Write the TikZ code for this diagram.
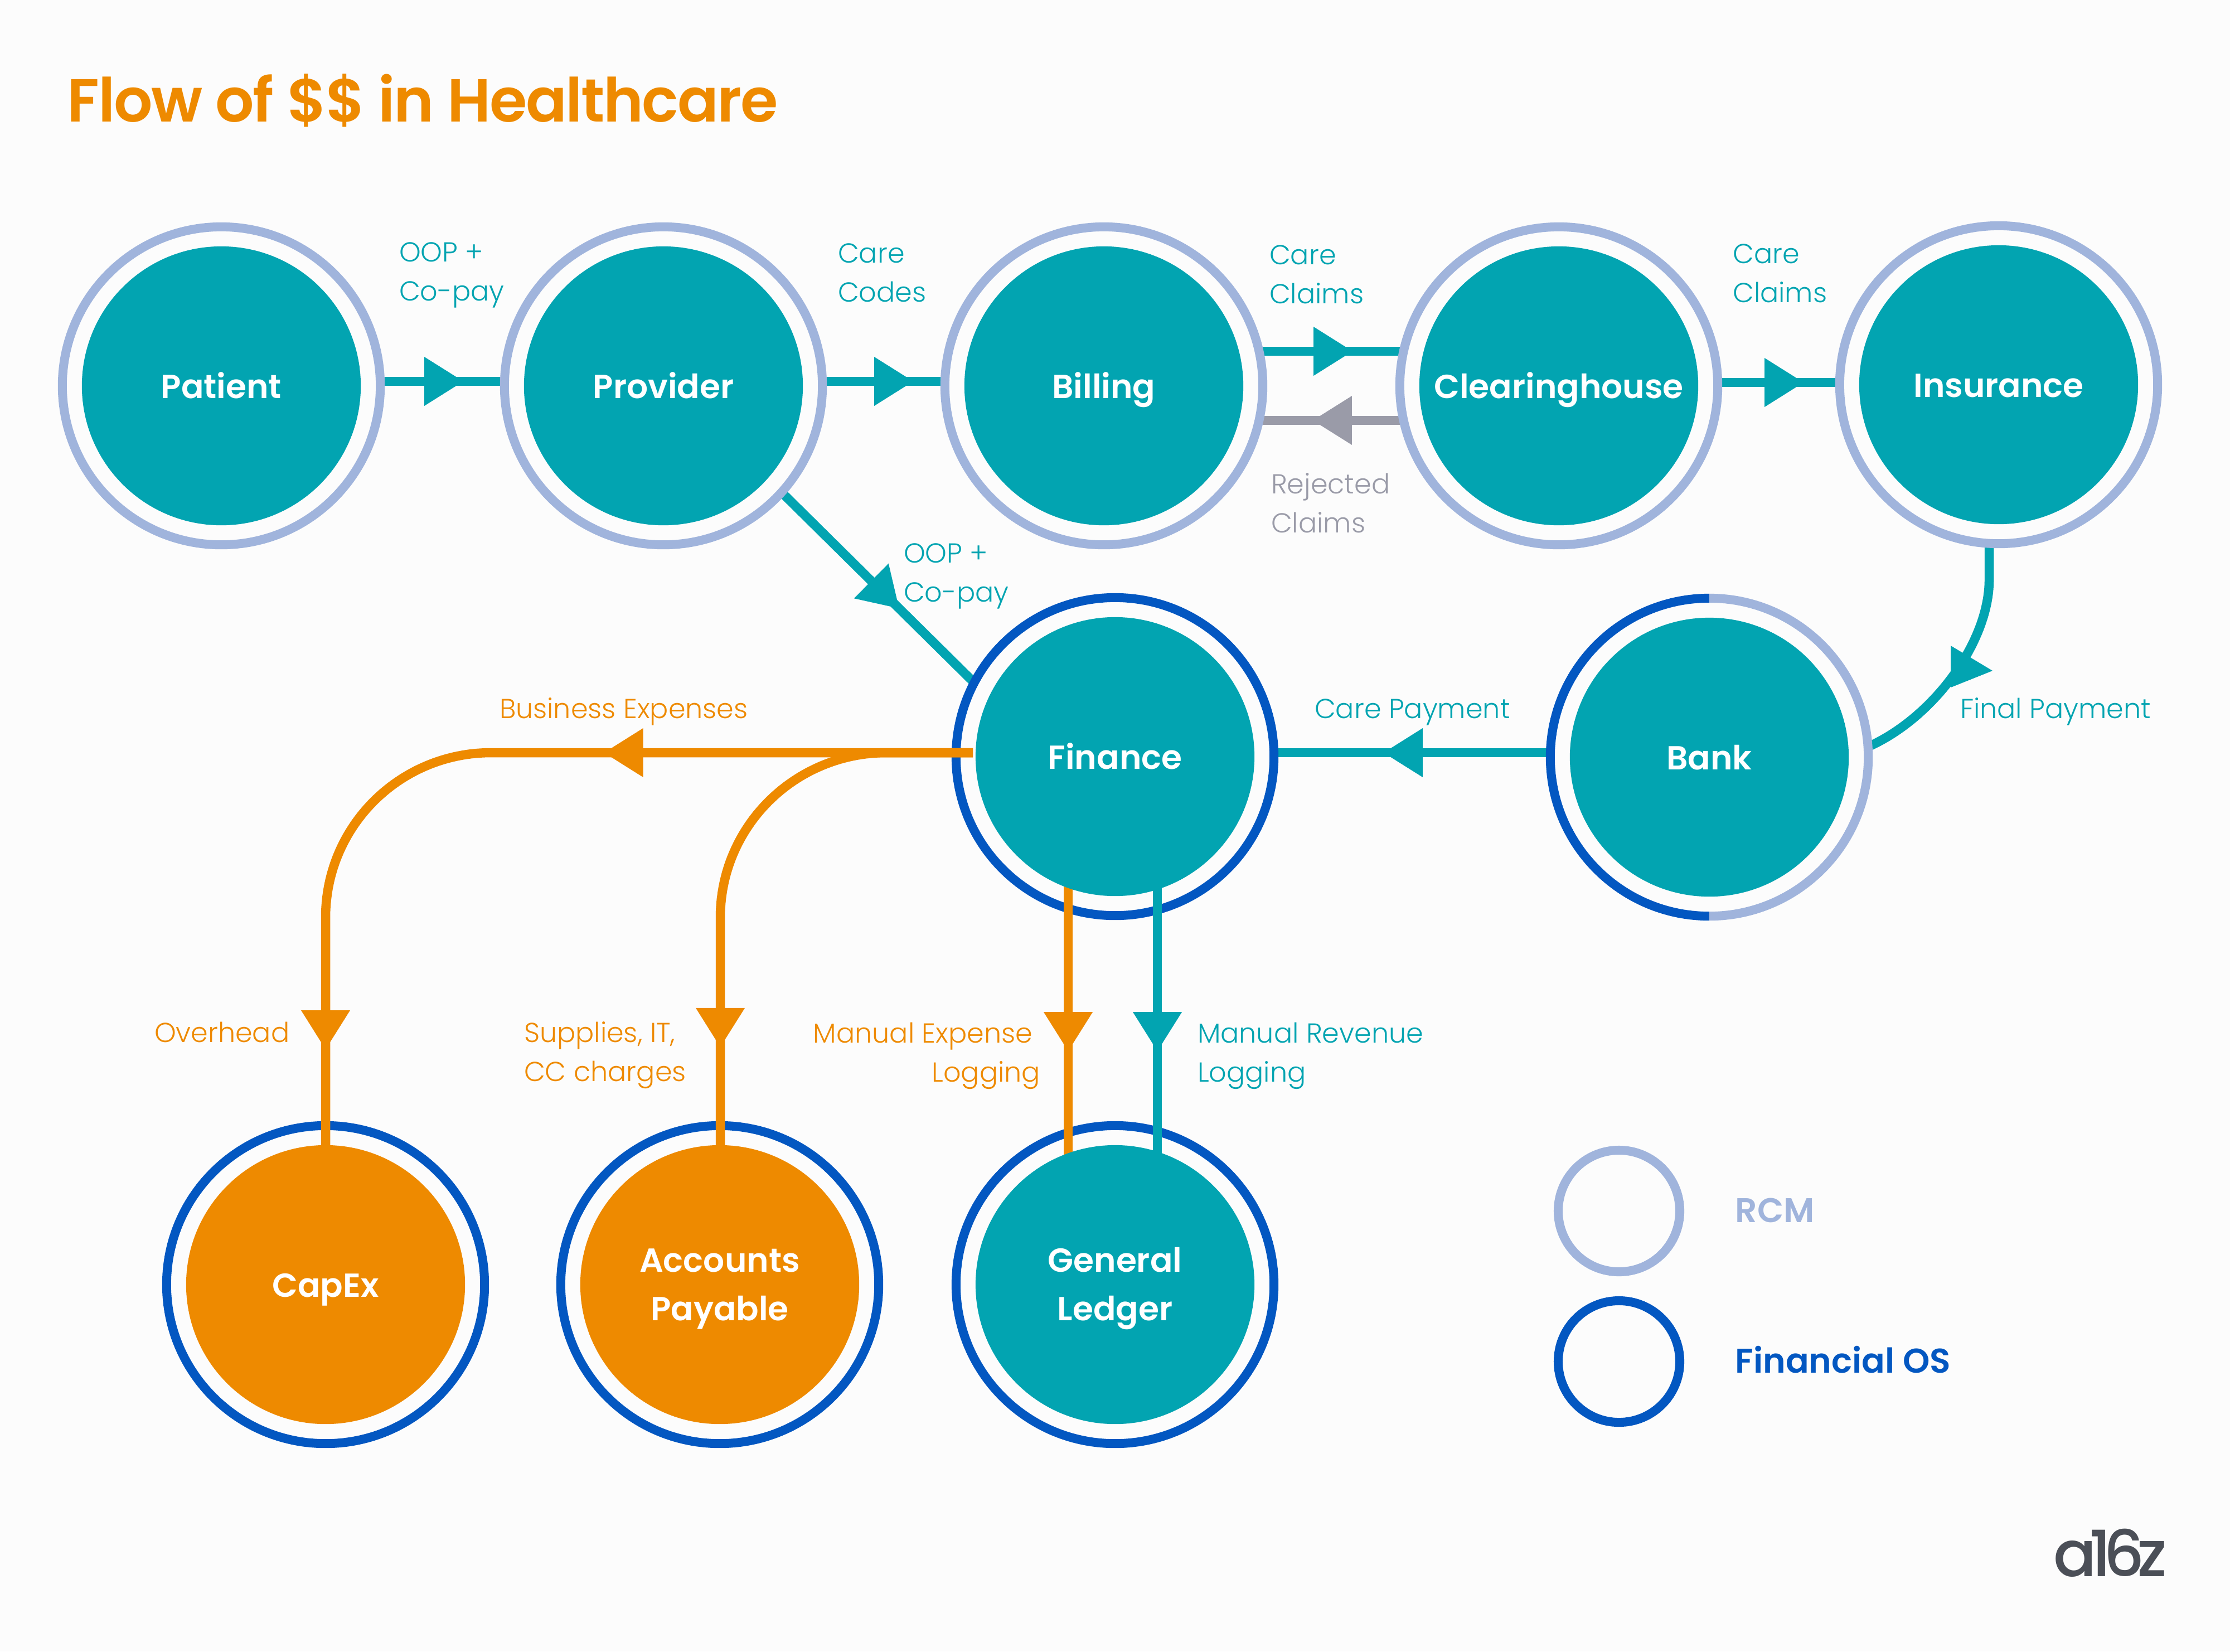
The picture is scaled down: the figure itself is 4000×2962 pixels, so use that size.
\documentclass[tikz,border=0pt]{standalone}
\usepackage{fontspec}
\setmainfont{Poppins SemiBold}
\newfontfamily\lightf{Poppins Light}
\newfontfamily\titlef{Poppins SemiBold}[LetterSpace=-2.2]
\newfontfamily\logof{Poppins Medium}[LetterSpace=-12]
\usetikzlibrary{calc,backgrounds,arrows.meta,decorations.markings}
\definecolor{tealc}{HTML}{02A4B1}
\definecolor{orangec}{HTML}{EE8A00}
\definecolor{rcmc}{HTML}{A0B4DC}
\definecolor{fosc}{HTML}{0357C1}
\definecolor{greyc}{HTML}{9A9BA8}
\definecolor{bgc}{HTML}{FCFCFC}
\definecolor{logoc}{HTML}{4B4F57}
\tikzset{
  ringbase/.style={circle,inner sep=0pt,outer sep=0pt,line width=0.16cm,minimum size=5.70cm},
  rcmring/.style={ringbase,draw=rcmc},
  fosring/.style={ringbase,draw=fosc},
  legendring/.style={minimum size=2.18cm},
  fillbase/.style={circle,inner sep=0pt,outer sep=0pt,minimum size=5.00cm,text=white,align=center,
     font=\fontsize{17}{24.5}\selectfont},
  oneline/.style={text height=0.45cm,text depth=0pt},
  twoline/.style={text height=1.44cm,text depth=0.16cm},
  tealfill/.style={fillbase,fill=tealc},
  orangefill/.style={fillbase,fill=orangec},
  lbl/.style={inner sep=0pt,outer sep=0pt,font=\lightf\fontsize{14}{19.9}\selectfont},
  lblw/.style={lbl,anchor=base west,align=left},
  flow/.style={line width=0.165cm},
  hd/.tip={Triangle[length=0.70cm,width=0.88cm,line width=0pt]},
  tipat/.style={postaction={decorate},decoration={markings,
     mark=at position #1 with {\arrow{hd}}}},
  tiptwo/.style 2 args={postaction={decorate},decoration={markings,
     mark=at position #1 with {\arrow{hd}},
     mark=at position #2 with {\arrow{hd}}}},
}
\begin{document}
\begin{tikzpicture}[x=0.01cm,y=-0.01cm]
\useasboundingbox (0,0) rectangle (4000,2962);

% rings
\node[rcmring] (patient ring) at (397,692) {};
\node[rcmring] (provider ring) at (1190,692) {};
\node[rcmring] (billing ring) at (1980,692) {};
\node[rcmring] (clearing ring) at (2796,692) {};
\node[rcmring] (insurance ring) at (3585,690) {};
\node[fosring] (finance ring) at (2000,1357) {};
\node[ringbase] (bank ring) at (3066,1358) {};
\draw[fosc,line width=0.16cm] (bank ring.north) arc[start angle=90,end angle=270,radius=2.85cm];
\draw[rcmc,line width=0.16cm] (bank ring.north) arc[start angle=90,end angle=-90,radius=2.85cm];
\node[fosring] (capex ring) at (584,2304) {};
\node[fosring] (ap ring) at (1291,2304) {};
\node[fosring] (gl ring) at (2000,2304) {};

% connectors hidden under the rings at their ends
\begin{scope}[on background layer]
\fill[bgc] (0,0) rectangle (4000,2962);
\draw[flow,tealc,tipat=1.49cm] ($(patient ring)+(285,-8)$) -- ($(provider ring)+(-285,-8)$);
\draw[flow,tealc,tipat=1.63cm] ($(provider ring)+(285,-8)$) -- ($(billing ring)+(-285,-8)$);
\draw[flow,tealc,tipat=1.68cm] ($(billing ring)+(278,-62)$) -- ($(clearing ring)+(-278,-62)$);
\draw[flow,greyc,tipat=1.63cm] ($(clearing ring)+(-278,62)$) -- ($(billing ring)+(278,62)$);
\draw[flow,tealc,tipat=1.54cm] ($(clearing ring)+(285,-6)$) -- ($(insurance ring)+(-285,-4)$);
\draw[flow,tealc,tipat=2.96cm] ($(provider ring)+(212,191)$) -- ($(finance ring)+(-253,-133)$);
\draw[flow,tealc,tipat=2.99cm] ($(bank ring)+(-285,-8)$) -- ($(finance ring)+(285,-7)$);
\draw[flow,tealc] ($(insurance ring)+(-17,285)$) -- (3568,1040)
   .. controls (3568,1150) and (3470,1285) .. ($(bank ring)+(288,-20)$);
\fill[tealc] (3499,1158) -- (3574,1203) -- (3499,1233) -- cycle;
\end{scope}

% connectors that run over the rings and stop at the filled discs
\draw[flow,orangec,tiptwo={6.61cm}{15.65cm}] ($(finance ring)+(-255,-7)$) -- (881,1350)
   .. controls (717,1350) and (584,1482) .. (584,1646) -- ($(capex ring)+(0,-240)$);
\draw[flow,orangec,tipat=8.53cm] ($(finance ring)+(-255,-7)$) -- (1590,1350)
   .. controls (1426,1350) and (1292,1482) .. (1292,1646) -- ($(ap ring)+(1,-240)$);
\draw[flow,orangec,tipat=3.03cm] ($(finance ring)+(-84,225)$) -- ($(gl ring)+(-84,-225)$);
\draw[flow,tealc,tipat=3.03cm] ($(finance ring)+(76,225)$) -- ($(gl ring)+(76,-225)$);

% filled discs
\node[tealfill,oneline] (patient) at (patient ring) {Patient};
\node[tealfill,oneline] (provider) at (provider ring) {Provider};
\node[tealfill,oneline] (billing) at (billing ring) {Billing};
\node[tealfill,oneline] (clearinghouse) at (clearing ring) {Clearinghouse};
\node[tealfill,oneline] (insurance) at (insurance ring) {Insurance};
\node[tealfill,oneline] (finance) at (finance ring) {Finance};
\node[tealfill,oneline] (bank) at (bank ring) {Bank};
\node[orangefill,oneline] (capex) at (capex ring) {CapEx};
\node[orangefill,twoline] (ap) at (ap ring) {Accounts\\Payable};
\node[tealfill,twoline] (gl) at (gl ring) {General\\Ledger};

% title
\node[inner sep=0pt,anchor=base west,text=orangec,font=\titlef\fontsize{31}{36}\selectfont] (title) at (120,218) {Flow of \$\$ in Healthcare};

% connector labels
\node[lblw,text=tealc] (l1) at (716,539) {OOP +\\Co-pay};
\node[lblw,text=tealc] (l2) at (1503,541) {Care\\Codes};
\node[lblw,text=tealc] (l3) at (2277,544) {Care\\Claims};
\node[lblw,text=tealc] (l4) at (3108,542) {Care\\Claims};
\node[lblw,text=greyc] (l5) at (2280,955) {Rejected\\Claims};
\node[lblw,text=tealc] (l6) at (1621,1079) {OOP +\\Co-pay};
\node[lblw,text=tealc] (l7) at (2358,1288) {Care Payment};
\node[lblw,text=tealc] (l8) at (3516,1288) {Final Payment};
\node[lblw,text=orangec] (l9) at (896,1288) {Business Expenses};
\node[lblw,text=orangec] (l10) at (277,1869) {Overhead};
\node[lblw,text=orangec] (l11) at (940,1939) {Supplies, IT,\\CC charges};
\node[lbl,anchor=base east,align=right,text=orangec] (l12) at (1866,1940) {Manual Expense\rule{0.14cm}{0pt}\\Logging};
\node[lblw,text=tealc] (l13) at (2148,1940) {Manual Revenue\\Logging};

% legend
\node[rcmring,legendring] (legend rcm) at (2904,2172) {};
\node[fosring,legendring] (legend fos) at (2904,2442) {};
\node[inner sep=0pt,anchor=base west,text=rcmc,font=\fontsize{17.5}{22}\selectfont] (rcm text) at (3112,2192) {RCM};
\node[inner sep=0pt,anchor=base west,text=fosc,font=\fontsize{17.5}{22}\selectfont] (fos text) at (3112,2462) {Financial OS};

% logo
\node[inner sep=0pt,anchor=base west,text=logoc,font=\logof\fontsize{32.5}{36}\selectfont] (logo) at (3683,2827) {a16z};
\end{tikzpicture}
\end{document}
